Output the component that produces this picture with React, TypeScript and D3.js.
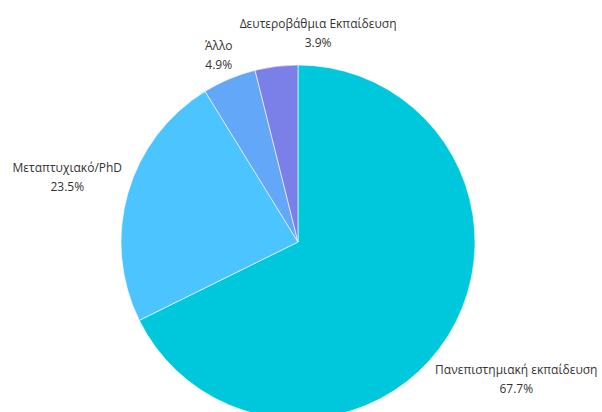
import { useMemo } from 'react';
import * as d3 from 'd3';

// Slices clockwise from 12 o'clock
const categories = [
  'Πανεπιστημιακή εκπαίδευση',
  'Μεταπτυχιακό/PhD',
  'Άλλο',
  'Δευτεροβάθμια Εκπαίδευση',
];
const shares = [67.7, 23.5, 4.9, 3.9];
const colors = ['#00c8dc', '#4cc4ff', '#63a8f8', '#7b80e8'];

// distance of each label centre from the pie centre, plus a small nudge
const labelRadius = [257, 240, 204, 212];
const labelNudgeX = [0, 0, 0, 46];

const width = 602;
const height = 412;
const cx = 298;
const cy = 242;
const radius = 177;

export default function App() {
  const arcs = useMemo(
    () =>
      d3
        .pie<number>()
        .sort(null)
        .value(d => d)(shares),
    []
  );

  const arc = d3
    .arc<d3.PieArcDatum<number>>()
    .innerRadius(0)
    .outerRadius(radius);

  return (
    <svg
      width={width}
      height={height}
      style={{ position: 'absolute', left: 0, top: 0, background: '#fff' }}
      fontFamily="'Open Sans', 'Noto Sans', sans-serif"
    >
      <g transform={`translate(${cx},${cy})`}>
        {arcs.map((a, i) => (
          <path key={i} d={arc(a) || ''} fill={colors[i]} stroke="#ffffff" strokeWidth={0.6} />
        ))}
        {arcs.map((a, i) => {
          const mid = (a.startAngle + a.endAngle) / 2;
          const x = Math.sin(mid) * labelRadius[i] + labelNudgeX[i];
          const y = -Math.cos(mid) * labelRadius[i];
          return (
            <text key={'l' + i} x={x} y={y} textAnchor="middle" fill="#333" fontSize={12}>
              <tspan x={x} dy="-0.3em">{categories[i]}</tspan>
              <tspan x={x} dy="1.55em">{shares[i].toFixed(1)}%</tspan>
            </text>
          );
        })}
      </g>
    </svg>
  );
}
